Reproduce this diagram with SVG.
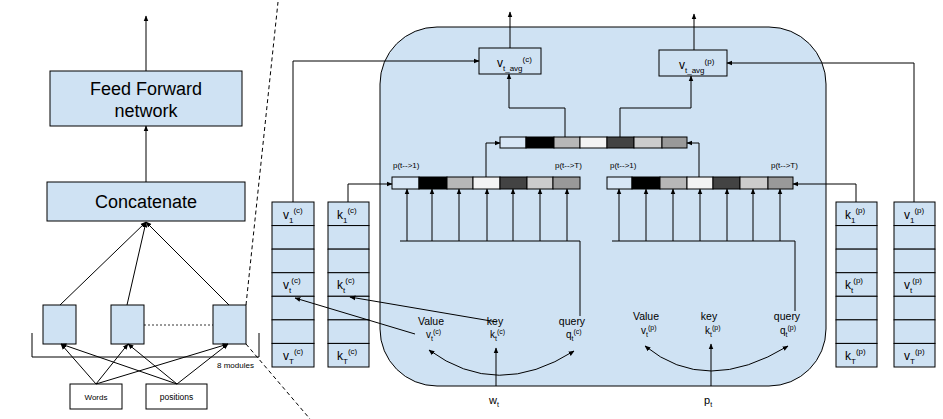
<svg xmlns="http://www.w3.org/2000/svg" width="943" height="419" viewBox="0 0 943 419">
<defs>
<marker id="ah" viewBox="0 0 10 10" refX="9" refY="5" markerWidth="6" markerHeight="6" orient="auto-start-reverse"><path d="M0,1 L10,5 L0,9 z" fill="#000"/></marker>
<style>
text{font-family:"Liberation Sans",Arial,sans-serif;fill:#000}
.box{fill:#cfe2f3;stroke:#000;stroke-width:1}
.wbox{fill:#fff;stroke:#000;stroke-width:1}
.ln{fill:none;stroke:#000;stroke-width:1}
.ar{marker-end:url(#ah)}
.ar2{marker-start:url(#ah);marker-end:url(#ah)}
.dash{fill:none;stroke:#000;stroke-width:1;stroke-dasharray:4,3}
.dot{fill:none;stroke:#000;stroke-width:0.8;stroke-dasharray:2,2}
.big{font-size:18px}
.sm{font-size:8px}
.lab{font-size:10.5px}
.sv{font-size:12px}
.ss{font-size:8px}
.bv{font-size:10px}
.bs{font-size:7px}
.s1{fill:#d8e7f6}.s2{fill:#000}.s3{fill:#b7b7b7}.s4{fill:#f3f3f3}.s5{fill:#434343}.s6{fill:#cccccc}.s7{fill:#999999}
.seg{stroke:#000;stroke-width:1}
</style>
</defs>

<g id="attention-module">
<rect x="380" y="27" width="446" height="359" rx="57" ry="57" class="box"/>
</g>

<g id="feed-forward">
<rect x="50" y="71" width="192" height="55" class="box"/>
<text x="146" y="95" text-anchor="middle" class="big">Feed Forward</text>
<text x="146" y="117" text-anchor="middle" class="big">network</text>
</g>
<g id="concatenate">
<rect x="47" y="182" width="198" height="39" class="box"/>
<text x="146" y="208" text-anchor="middle" class="big">Concatenate</text>
</g>
<g id="module-1"><rect x="43" y="305" width="33" height="39" class="box"/></g>
<g id="module-2"><rect x="111" y="305" width="33" height="39" class="box"/></g>
<g id="module-8"><rect x="213" y="305" width="33" height="39" class="box"/></g>
<g id="modules-bracket">
<path d="M32 333 V357 H259 V333" class="ln"/>
<text x="217" y="368" class="sm">8 modules</text>
</g>
<g id="words"><rect x="70" y="384" width="52" height="25" class="wbox"/><text x="96" y="400" text-anchor="middle" class="sm">Words</text></g>
<g id="positions"><rect x="146" y="384" width="61" height="25" class="wbox"/><text x="176.5" y="400" text-anchor="middle" class="sm" style="font-size:8.5px">positions</text></g>

<g id="v-c-stack">
<rect x="272" y="202" width="42" height="23.57" class="box"/>
<rect x="272" y="225.57" width="42" height="23.57" class="box"/>
<rect x="272" y="249.14" width="42" height="23.57" class="box"/>
<rect x="272" y="272.71" width="42" height="23.57" class="box"/>
<rect x="272" y="296.29" width="42" height="23.57" class="box"/>
<rect x="272" y="319.86" width="42" height="23.57" class="box"/>
<rect x="272" y="343.43" width="42" height="23.57" class="box"/>
<text x="283" y="219" class="sv">v<tspan class="ss" dy="4">1</tspan><tspan class="ss" dy="-10">(c)</tspan></text>
<text x="283" y="289" class="sv">v<tspan class="ss" dy="4">t</tspan><tspan class="ss" dy="-10">(c)</tspan></text>
<text x="283" y="360" class="sv">v<tspan class="ss" dy="4">T</tspan><tspan class="ss" dy="-10">(c)</tspan></text>
</g>
<g id="k-c-stack">
<rect x="328" y="202" width="41" height="23.57" class="box"/>
<rect x="328" y="225.57" width="41" height="23.57" class="box"/>
<rect x="328" y="249.14" width="41" height="23.57" class="box"/>
<rect x="328" y="272.71" width="41" height="23.57" class="box"/>
<rect x="328" y="296.29" width="41" height="23.57" class="box"/>
<rect x="328" y="319.86" width="41" height="23.57" class="box"/>
<rect x="328" y="343.43" width="41" height="23.57" class="box"/>
<text x="337" y="219" class="sv">k<tspan class="ss" dy="4">1</tspan><tspan class="ss" dy="-10">(c)</tspan></text>
<text x="337" y="289" class="sv">k<tspan class="ss" dy="4">t</tspan><tspan class="ss" dy="-10">(c)</tspan></text>
<text x="337" y="360" class="sv">k<tspan class="ss" dy="4">T</tspan><tspan class="ss" dy="-10">(c)</tspan></text>
</g>
<g id="k-p-stack">
<rect x="836" y="202" width="41" height="23.57" class="box"/>
<rect x="836" y="225.57" width="41" height="23.57" class="box"/>
<rect x="836" y="249.14" width="41" height="23.57" class="box"/>
<rect x="836" y="272.71" width="41" height="23.57" class="box"/>
<rect x="836" y="296.29" width="41" height="23.57" class="box"/>
<rect x="836" y="319.86" width="41" height="23.57" class="box"/>
<rect x="836" y="343.43" width="41" height="23.57" class="box"/>
<text x="845" y="219" class="sv">k<tspan class="ss" dy="4">1</tspan><tspan class="ss" dy="-10">(p)</tspan></text>
<text x="845" y="289" class="sv">k<tspan class="ss" dy="4">t</tspan><tspan class="ss" dy="-10">(p)</tspan></text>
<text x="845" y="360" class="sv">k<tspan class="ss" dy="4">T</tspan><tspan class="ss" dy="-10">(p)</tspan></text>
</g>
<g id="v-p-stack">
<rect x="894" y="202" width="41" height="23.57" class="box"/>
<rect x="894" y="225.57" width="41" height="23.57" class="box"/>
<rect x="894" y="249.14" width="41" height="23.57" class="box"/>
<rect x="894" y="272.71" width="41" height="23.57" class="box"/>
<rect x="894" y="296.29" width="41" height="23.57" class="box"/>
<rect x="894" y="319.86" width="41" height="23.57" class="box"/>
<rect x="894" y="343.43" width="41" height="23.57" class="box"/>
<text x="904" y="219" class="sv">v<tspan class="ss" dy="4">1</tspan><tspan class="ss" dy="-10">(p)</tspan></text>
<text x="904" y="289" class="sv">v<tspan class="ss" dy="4">t</tspan><tspan class="ss" dy="-10">(p)</tspan></text>
<text x="904" y="360" class="sv">v<tspan class="ss" dy="4">T</tspan><tspan class="ss" dy="-10">(p)</tspan></text>
</g>

<g id="attn-bar-c">
<rect x="392" y="177" width="27" height="12" class="seg s1"/>
<rect x="419" y="177" width="28" height="12" class="seg s2"/>
<rect x="447" y="177" width="26" height="12" class="seg s3"/>
<rect x="473" y="177" width="27" height="12" class="seg s4"/>
<rect x="500" y="177" width="27" height="12" class="seg s5"/>
<rect x="527" y="177" width="26" height="12" class="seg s6"/>
<rect x="553" y="177" width="27" height="12" class="seg s7"/>
<text x="393" y="168" class="sm">p(t--&gt;1)</text>
<text x="555" y="168" class="sm">p(t--&gt;T)</text>
</g>
<g id="attn-bar-p">
<rect x="607" y="177" width="25" height="12" class="seg s1"/>
<rect x="632" y="177" width="28" height="12" class="seg s2"/>
<rect x="660" y="177" width="27" height="12" class="seg s3"/>
<rect x="687" y="177" width="26" height="12" class="seg s4"/>
<rect x="713" y="177" width="27" height="12" class="seg s5"/>
<rect x="740" y="177" width="28" height="12" class="seg s6"/>
<rect x="768" y="177" width="25" height="12" class="seg s7"/>
<text x="610" y="168" class="sm">p(t--&gt;1)</text>
<text x="771" y="168" class="sm">p(t--&gt;T)</text>
</g>
<g id="attn-bar-mid">
<rect x="500" y="137" width="26" height="11" class="seg s1"/>
<rect x="526" y="137" width="28" height="11" class="seg s2"/>
<rect x="554" y="137" width="26" height="11" class="seg s3"/>
<rect x="580" y="137" width="27" height="11" class="seg s4"/>
<rect x="607" y="137" width="27" height="11" class="seg s5"/>
<rect x="634" y="137" width="28" height="11" class="seg s6"/>
<rect x="662" y="137" width="25" height="11" class="seg s7"/>
</g>
<g id="v-avg-c">
<rect x="479" y="48" width="62" height="26" class="wbox" style="fill:none"/>
<text x="497" y="67" class="sv">v<tspan class="ss" dy="4">t_avg</tspan><tspan class="ss" dy="-9">(c)</tspan></text>
</g>
<g id="v-avg-p">
<rect x="659" y="50" width="68" height="26" class="wbox" style="fill:none"/>
<text x="679" y="69" class="sv">v<tspan class="ss" dy="4">t_avg</tspan><tspan class="ss" dy="-9">(p)</tspan></text>
</g>

<g id="qkv-c">
<text x="431" y="325" text-anchor="middle" class="lab">Value</text>
<text x="495" y="325" text-anchor="middle" class="lab">key</text>
<text x="572" y="325" text-anchor="middle" class="lab">query</text>
<text x="426" y="338" class="bv">v<tspan class="bs" dy="3">t</tspan><tspan class="bs" dy="-7">(c)</tspan></text>
<text x="490" y="338" class="bv">k<tspan class="bs" dy="3">t</tspan><tspan class="bs" dy="-7">(c)</tspan></text>
<text x="566" y="338" class="bv">q<tspan class="bs" dy="3">t</tspan><tspan class="bs" dy="-7">(c)</tspan></text>
</g>
<g id="qkv-p">
<text x="646" y="320" text-anchor="middle" class="lab">Value</text>
<text x="709" y="320" text-anchor="middle" class="lab">key</text>
<text x="787" y="320" text-anchor="middle" class="lab">query</text>
<text x="641" y="334" class="bv">v<tspan class="bs" dy="3">t</tspan><tspan class="bs" dy="-7">(p)</tspan></text>
<text x="705" y="334" class="bv">k<tspan class="bs" dy="3">t</tspan><tspan class="bs" dy="-7">(p)</tspan></text>
<text x="780" y="334" class="bv">q<tspan class="bs" dy="3">t</tspan><tspan class="bs" dy="-7">(p)</tspan></text>
</g>
<g id="w-t"><text x="489" y="404" style="font-size:11px">w<tspan style="font-size:7px" dy="3">t</tspan></text></g>
<g id="p-t"><text x="704" y="404" style="font-size:11px">p<tspan style="font-size:7px" dy="3">t</tspan></text></g>

<g id="connectors">
<path d="M146 71 V16" class="ln ar"/>
<path d="M146 182 V126" class="ln ar"/>
<path d="M60 305 L146 222" class="ln ar"/>
<path d="M127 305 L146 222" class="ln ar"/>
<path d="M229 305 L146 222" class="ln ar"/>
<path d="M96 384 L61 344" class="ln ar"/>
<path d="M96 384 L128 344" class="ln ar"/>
<path d="M96 384 L228 344" class="ln ar"/>
<path d="M177 384 L61 344" class="ln ar"/>
<path d="M177 384 L128 344" class="ln ar"/>
<path d="M177 384 L228 344" class="ln ar"/>
<path d="M144 325 H213" class="dot"/>
<path d="M246 305 L278 2" class="dash"/>
<path d="M246 344 L310 419" class="dash"/>
<path d="M293 202 V61 H479" class="ln ar"/>
<path d="M348 202 V184 H392" class="ln ar"/>
<path d="M914 202 V63 H727" class="ln ar"/>
<path d="M856 202 V184 H793" class="ln ar"/>
<path d="M580 316 V241 H400" class="ln"/>
<path d="M407 241 V189" class="ln ar"/>
<path d="M432 241 V189" class="ln ar"/>
<path d="M459 241 V189" class="ln ar"/>
<path d="M487 241 V189" class="ln ar"/>
<path d="M513 241 V189" class="ln ar"/>
<path d="M540 241 V189" class="ln ar"/>
<path d="M567 241 V189" class="ln ar"/>
<path d="M795 311 V241 H612" class="ln"/>
<path d="M619 241 V189" class="ln ar"/>
<path d="M646 241 V189" class="ln ar"/>
<path d="M673 241 V189" class="ln ar"/>
<path d="M700 241 V189" class="ln ar"/>
<path d="M727 241 V189" class="ln ar"/>
<path d="M753 241 V189" class="ln ar"/>
<path d="M780 241 V189" class="ln ar"/>
<path d="M486 177 V143 H500" class="ln ar"/>
<path d="M699 177 V143 H687" class="ln ar"/>
<path d="M565 137 V108 H509 V74" class="ln ar"/>
<path d="M620 137 V108 H691 V76" class="ln ar"/>
<path d="M510 48 V12" class="ln ar"/>
<path d="M694 50 V14" class="ln ar"/>
<path d="M497 322 L350 297" class="ln ar"/>
<path d="M415 334 L295 298" class="ln ar"/>
<path d="M496 386 V348" class="ln ar"/>
<path d="M429 350 Q497 400 574 351" class="ln ar2"/>
<path d="M711 386 V344" class="ln ar"/>
<path d="M645 346 Q706 396 788 346" class="ln ar2"/>
</g>
</svg>
